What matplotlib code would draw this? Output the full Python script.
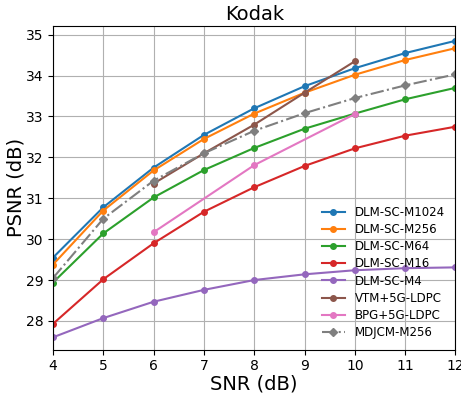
import matplotlib
matplotlib.use("Agg")
import matplotlib.pyplot as plt

snr = [4, 5, 6, 7, 8, 9, 10, 11, 12]
m1024 = [29.55, 30.78, 31.75, 32.55, 33.20, 33.74, 34.18, 34.55, 34.85]
m256 = [29.38, 30.70, 31.68, 32.45, 33.07, 33.58, 34.02, 34.38, 34.67]
m64 = [28.94, 30.14, 31.02, 31.69, 32.23, 32.70, 33.07, 33.42, 33.70]
m16 = [27.93, 29.02, 29.90, 30.67, 31.27, 31.79, 32.22, 32.53, 32.75]
m4 = [27.60, 28.07, 28.47, 28.76, 29.00, 29.14, 29.24, 29.29, 29.31]
vtm_snr = [6, 7, 8, 9, 10]
vtm = [31.36, 32.10, 32.80, 33.58, 34.35]
bpg_snr = [6, 8, 10]
bpg = [30.17, 31.81, 33.06]
mdjcm = [29.05, 30.50, 31.43, 32.10, 32.65, 33.08, 33.45, 33.76, 34.03]

fig, ax = plt.subplots(figsize=(4.61, 3.95), dpi=100)

ms = 4
ax.plot(snr, m1024, marker='o', markersize=ms, color='tab:blue', label='DLM-SC-M1024')
ax.plot(snr, m256, marker='o', markersize=ms, color='tab:orange', label='DLM-SC-M256')
ax.plot(snr, m64, marker='o', markersize=ms, color='tab:green', label='DLM-SC-M64')
ax.plot(snr, m16, marker='o', markersize=ms, color='tab:red', label='DLM-SC-M16')
ax.plot(snr, m4, marker='o', markersize=ms, color='tab:purple', label='DLM-SC-M4')
ax.plot(vtm_snr, vtm, marker='o', markersize=ms, color='tab:brown', label='VTM+5G-LDPC')
ax.plot(bpg_snr, bpg, marker='o', markersize=ms, color='tab:pink', label='BPG+5G-LDPC')
ax.plot(snr, mdjcm, marker='D', markersize=ms, color='tab:gray', linestyle='-.', label='MDJCM-M256')

ax.set_xlim(4, 12)
ax.set_ylim(27.3, 35.22)
ax.set_xticks(range(4, 13))
ax.set_title('Kodak', fontsize=14, pad=4)
ax.set_xlabel('SNR (dB)', fontsize=14, labelpad=1)
ax.set_ylabel('PSNR (dB)', fontsize=14, labelpad=0)
ax.grid(True)
ax.legend(loc='lower right', frameon=False, fontsize=8.5, labelspacing=0.35,
          bbox_to_anchor=(1.0, 0.0))
fig.subplots_adjust(left=0.115, right=0.988, top=0.935, bottom=0.115)
fig.savefig('out.png', dpi=100)
